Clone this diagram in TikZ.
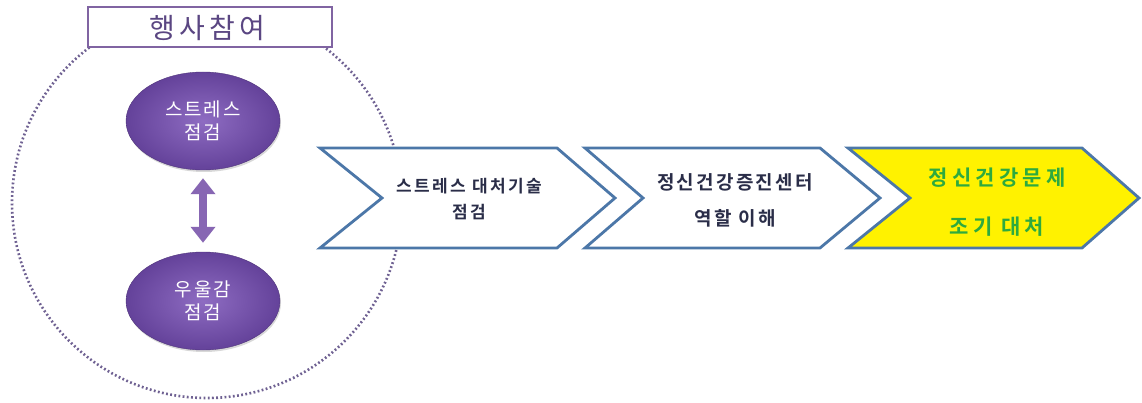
\documentclass[tikz,border=0pt]{standalone}
\usepackage{fontspec}
\newfontfamily\kr{Noto Sans CJK KR}
\newfontfamily\krb{Noto Sans CJK KR Bold}
\usetikzlibrary{arrows.meta,shadows,shapes.geometric}
\definecolor{purpleline}{HTML}{8064A2}
\definecolor{dotcol}{HTML}{6F6192}
\definecolor{titletext}{HTML}{5A4682}
\definecolor{ellin}{HTML}{8E6CC2}
\definecolor{ellout}{HTML}{64429A}
\definecolor{arrowpurple}{HTML}{8766B3}
\definecolor{chevline}{HTML}{4C77A8}
\definecolor{chevtext}{HTML}{2A2D48}
\definecolor{greentext}{HTML}{2EAA3E}
\tikzset{
  titlebox/.style={draw=purpleline, line width=2.6pt, fill=white},
  ellbox/.style={ellipse, minimum width=154pt, minimum height=98pt, inner color=ellin, outer color=ellout, draw=ellout!80!black, line width=0.4pt, text=white, align=center, font=\kr\addfontfeatures{LetterSpace=10}\fontsize{19}{23}\selectfont, drop shadow={shadow xshift=1pt, shadow yshift=-2pt, opacity=0.3}},
  chev/.style={draw=chevline, line width=2.8pt, line join=miter},
  chevlabelA/.style={align=center, text=chevtext, font=\krb\addfontfeatures{LetterSpace=14}\fontsize{17}{26}\selectfont},
  chevlabelB/.style={align=center, text=chevtext, font=\krb\addfontfeatures{LetterSpace=12}\fontsize{19}{36}\selectfont},
  greenlabel/.style={align=center, text=greentext, font=\krb\addfontfeatures{LetterSpace=20}\fontsize{21}{49}\selectfont},
  dualarrow/.style={draw=arrowpurple, line width=8pt, {Triangle[width=24pt,length=16pt]}-{Triangle[width=24pt,length=16pt]}, shorten <=8pt, shorten >=9pt}
}
\begin{document}
\begin{tikzpicture}[x=1pt,y=-1pt]
\fill[white] (0,0) rectangle (1142,403);
\useasboundingbox (0,0) rectangle (1142,403);
% dotted circle
\draw[dotcol, line width=2.6pt, dash pattern=on 1.8pt off 2.4pt] (207,203) circle[radius=195pt];
% title box
\draw[titlebox] (88,7) rectangle (332,47);
\node[text=titletext, font=\kr\addfontfeatures{LetterSpace=15}\fontsize{28}{30}\selectfont] (title) at (207,28) {행사참여};
% ellipses
\node[ellbox] (e1) at (203,121) {스트레스\\점검};
\node[ellbox] (e2) at (203,301) {우울감\\점검};
\draw[dualarrow] (e1.south) -- (e2.north);
% chevrons
\draw[chev, fill=white] (320,148) -- (557,148) -- (615,198) -- (557,248) -- (320,248) -- (382,198) -- cycle;
\draw[chev, fill=white] (585,148) -- (820,148) -- (880,198) -- (820,248) -- (585,248) -- (643,198) -- cycle;
\draw[chev, fill=yellow] (848,148) -- (1082,148) -- (1139,198) -- (1082,248) -- (848,248) -- (910,198) -- cycle;
\node[chevlabelA] (c1) at (469,199) {스트레스 대처기술\\점검};
\node[chevlabelB] (c2) at (735,200) {정신건강증진센터\\역할 이해};
\node[greenlabel] (c3) at (997,202) {정신건강문제\\조기 대처};
\end{tikzpicture}
\end{document}
